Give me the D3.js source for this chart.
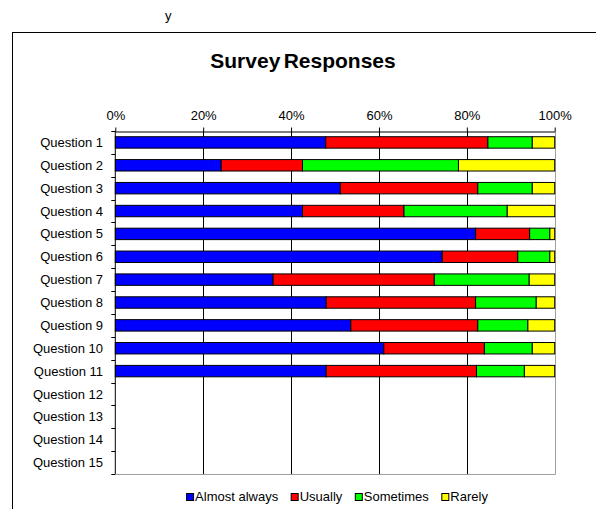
<!DOCTYPE html>
<html>
<head>
<meta charset="utf-8">
<script src="https://cdn.jsdelivr.net/npm/d3@7"></script>
<style>
  body { margin: 0; background: #fff; }
  svg { display: block; font-family: "Liberation Sans", Arial, sans-serif; }
</style>
</head>
<body>
<svg id="chart" width="596" height="509"></svg>
<script>
// ---- data ----
const categories = ["Question 1","Question 2","Question 3","Question 4","Question 5",
  "Question 6","Question 7","Question 8","Question 9","Question 10","Question 11",
  "Question 12","Question 13","Question 14","Question 15"];
const seriesNames = ["Almost always","Usually","Sometimes","Rarely"];
const almostAlways = [47.9, 24.1, 51.2, 42.6, 82.0, 74.4, 35.9, 48.0, 53.6, 61.1, 48.0, 0, 0, 0, 0];
const usually      = [36.9, 18.5, 31.3, 23.1, 12.3, 17.2, 36.7, 34.0, 28.9, 22.9, 34.2, 0, 0, 0, 0];
const sometimes    = [10.1, 35.5, 12.4, 23.5,  4.6,  7.3, 21.6, 13.8, 11.4, 10.9, 10.9, 0, 0, 0, 0];
const rarely       = [ 5.1, 21.9,  5.1, 10.8,  1.1,  1.1,  5.8,  4.2,  6.1,  5.1,  6.9, 0, 0, 0, 0];
const tickValues = [0, 0.2, 0.4, 0.6, 0.8, 1.0];
const colors = ["#0000FF", "#FF0000", "#00FF00", "#FFFF00"];
const titleText = "Survey Responses";

(function () {
// ---- layout ----
const svg = d3.select("#chart");
const pLeft = 115.3, pRight = 554.7, pTop = 131, pBottom = 474;

// frame
svg.append("rect").attr("x", 12.5).attr("y", 32.5).attr("width", 700).attr("height", 600)
  .attr("fill", "#fff").attr("stroke", "#000").attr("stroke-width", 1);

svg.append("text").attr("x", 165).attr("y", 20).attr("font-size", 13).attr("fill", "#000").text("y");

svg.append("text").attr("x", 303).attr("y", 68).attr("text-anchor", "middle")
  .attr("font-size", 21).attr("font-weight", "bold").attr("word-spacing", -2.5)
  .attr("fill", "#000").text(titleText);

const x = d3.scaleLinear().domain([0, 1]).range([pLeft, pRight]);
const y = d3.scaleBand().domain(categories).range([pTop, pBottom]).paddingInner(0.5).paddingOuter(0.25);

// gridlines
svg.append("g").selectAll("line").data(tickValues.slice(1, -1)).join("line")
  .attr("x1", d => Math.round(x(d)) + 0.5).attr("x2", d => Math.round(x(d)) + 0.5)
  .attr("y1", pTop).attr("y2", pBottom)
  .attr("stroke", "#000").attr("stroke-width", 1);

// plot area border (right, bottom)
svg.append("path")
  .attr("d", `M${Math.round(pRight)+0.5},${pTop} V${pBottom+0.5} H${pLeft}`)
  .attr("fill", "none").attr("stroke", "#a0a0a0").attr("stroke-width", 1);

// stacked data
const rows = categories.map((c, i) => ({
  cat: c, vals: [almostAlways[i], usually[i], sometimes[i], rarely[i]]
}));
const segs = [];
rows.forEach(r => {
  const tot = d3.sum(r.vals);
  if (tot === 0) return;
  let acc = 0;
  r.vals.forEach((v, k) => {
    segs.push({ cat: r.cat, k, x0: acc / tot, x1: (acc + v) / tot });
    acc += v;
  });
});

svg.append("g").selectAll("rect").data(segs).join("rect")
  .attr("x", d => x(d.x0)).attr("width", d => x(d.x1) - x(d.x0))
  .attr("y", d => y(d.cat)).attr("height", y.bandwidth())
  .attr("fill", d => colors[d.k]).attr("stroke", "#000").attr("stroke-width", 1);

// top axis
const xAxis = d3.axisTop(x).tickValues(tickValues).tickFormat(d3.format(".0%"))
  .tickSizeInner(4).tickSizeOuter(0).tickPadding(8);
const gx = svg.append("g").attr("transform", `translate(0,${pTop + 0.5})`).call(xAxis);
gx.selectAll("text").attr("font-size", 13).attr("fill", "#000")
  .attr("font-family", "'Liberation Sans', Arial, sans-serif");
gx.selectAll("line, path").attr("stroke", "#000");

// left axis
const boundaries = categories.map(c => y(c) - y.step() * 0.25).concat([pBottom]);
const gy = svg.append("g");
gy.append("line").attr("x1", pLeft).attr("x2", pLeft).attr("y1", pTop).attr("y2", pBottom)
  .attr("stroke", "#000");
gy.selectAll("line.tk").data(boundaries).join("line").attr("class", "tk")
  .attr("x1", pLeft - 4).attr("x2", pLeft).attr("y1", d => Math.round(d) + 0.5).attr("y2", d => Math.round(d) + 0.5)
  .attr("stroke", "#000");
gy.selectAll("text").data(categories).join("text")
  .attr("x", 103).attr("y", d => y(d) + y.bandwidth() / 2).attr("dy", "0.35em")
  .attr("text-anchor", "end").attr("font-size", 13).attr("fill", "#000").text(d => d);

// legend
const lg = svg.append("g");
let lx = 0;
seriesNames.forEach((name, k) => {
  const g = lg.append("g").attr("transform", `translate(${lx},0)`);
  g.append("rect").attr("x", 0.5).attr("y", 493.5).attr("width", 7).attr("height", 7)
    .attr("fill", colors[k]).attr("stroke", "#000");
  const t = g.append("text").attr("x", 9).attr("y", 501).attr("font-size", 13).attr("fill", "#000").text(name);
  lx += 9 + t.node().getComputedTextLength() + 12.5;
});
const lw = lx - 12.5;
lg.attr("transform", `translate(${337 - lw / 2},0)`);
})();
</script>
</body>
</html>
